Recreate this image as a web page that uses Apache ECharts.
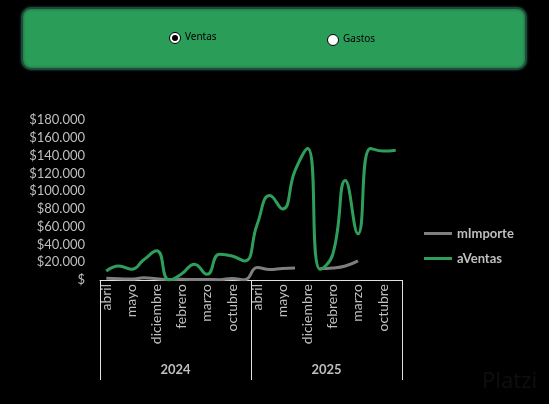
<!DOCTYPE html>
<html lang="es">
<head>
<meta charset="utf-8">
<title>Ventas</title>
<script src="https://cdn.jsdelivr.net/npm/echarts@6/dist/echarts.min.js"></script>
<style>
html,body{margin:0;padding:0;background:#000;}
#main{width:549px;height:404px;}
</style>
</head>
<body>
<div id="main"></div>
<script>
// meses por año (solo se ven uno de cada dos en el eje)
var meses = ['abril','agosto','mayo','julio','diciembre','enero','febrero','junio','marzo','noviembre','octubre','septiembre'];
var anios = ['2024','2025'];
var categorias = [];
for (var a = 0; a < anios.length; a++) {
  for (var m = 0; m < meses.length; m++) categorias.push(meses[m]);
}

var mImporte = [2000,1500,1000,2500,1500,500,800,600,700,400,1800,300,
                14000,11700,13000,13600,null,13000,13600,15800,21500,null,null,null];
var aVentas  = [10000,15800,12000,23000,32800,0,7000,17800,6400,29000,27000,21500,
                63000,95000,80000,123000,148000,12000,29000,112000,52000,148000,145000,146000];

var gris = '#bfbfbf';

function moneda(v){
  if (v === 0) return '$';
  return '$' + String(v).replace(/\B(?=(\d{3})+(?!\d))/g, '.');
}

var chart = echarts.init(document.getElementById('main'));
chart.setOption({
  backgroundColor: '#000',
  animation: false,
  graphic: [
    { type: 'rect', left: 21, top: 7, shape: { width: 504, height: 61, r: 9 },
      style: { fill: '#2a9d58', stroke: '#1f4a3a', lineWidth: 2, shadowBlur: 3, shadowColor: 'rgba(30,70,55,0.9)' } },
    { type: 'circle', shape: { cx: 175, cy: 38, r: 5.5 }, style: { fill: '#fff', stroke: '#000', lineWidth: 1 } },
    { type: 'circle', shape: { cx: 175, cy: 38, r: 3 }, style: { fill: '#000' } },
    { type: 'text', left: 185, top: 32, style: { text: 'Ventas', fill: '#000', font: '10px "Noto Sans"' } },
    { type: 'circle', shape: { cx: 333, cy: 40, r: 5.5 }, style: { fill: '#fff', stroke: '#000', lineWidth: 1 } },
    { type: 'text', left: 343, top: 34, style: { text: 'Gastos', fill: '#000', font: '10px "Noto Sans"' } },
    { type: 'text', left: 482, top: 371, style: { text: 'Platzi', fill: '#0e0e0b', font: '22px "Noto Sans"' } }
  ],
  legend: {
    orient: 'vertical',
    left: 419, top: 222,
    icon: 'rect',
    itemWidth: 28, itemHeight: 3, itemGap: 12,
    textStyle: { color: gris, fontSize: 13, fontWeight: 'bold', fontFamily: 'Lato' },
    data: ['mImporte','aVentas']
  },
  grid: { left: 100, right: 147, top: 120, bottom: 124 },
  xAxis: [
    {
      type: 'category',
      data: categorias,
      axisLine: { lineStyle: { color: '#e0e0e0', width: 1 } },
      axisTick: { show: false },
      axisLabel: { interval: 1, rotate: 90, color: gris, fontSize: 14, fontFamily: 'Lato', margin: 4 }
    },
    {
      type: 'category',
      data: anios,
      position: 'bottom',
      axisLine: { show: false },
      axisTick: { show: true, length: 100, lineStyle: { color: '#e0e0e0', width: 1 } },
      axisLabel: { color: gris, fontSize: 13, fontWeight: 'bold', fontFamily: 'Lato', margin: 83 }
    }
  ],
  yAxis: {
    type: 'value',
    min: 0, max: 180000, interval: 20000,
    splitLine: { show: false },
    axisLine: { show: false },
    axisTick: { show: false },
    axisLabel: { color: gris, fontSize: 13, fontFamily: 'Lato', margin: 15, formatter: moneda }
  },
  series: [
    { name: 'mImporte', type: 'line', data: mImporte, smooth: true, showSymbol: false,
      connectNulls: false, itemStyle: { color: '#7f7f7f' }, lineStyle: { color: '#7f7f7f', width: 3 } },
    { name: 'aVentas', type: 'line', data: aVentas, smooth: true, showSymbol: false,
      itemStyle: { color: '#2e9e5a' }, lineStyle: { color: '#2e9e5a', width: 3 } }
  ]
});
</script>
</body>
</html>
